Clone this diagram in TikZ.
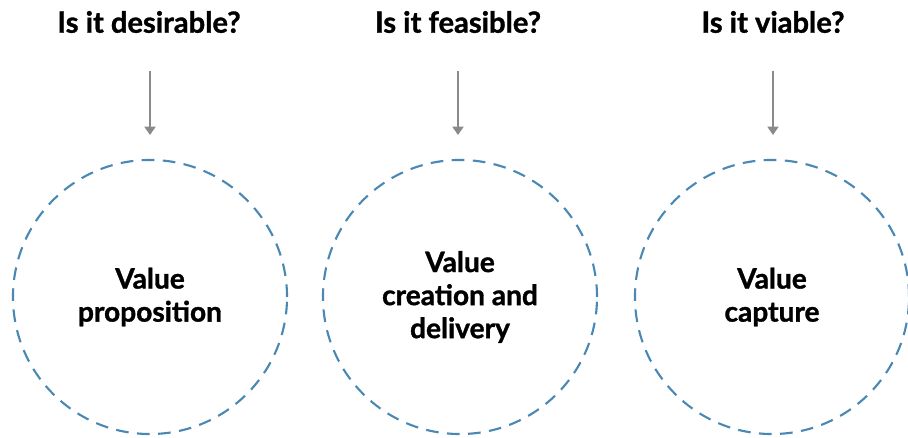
\documentclass[tikz,border=0pt]{standalone}
\usepackage{fontspec}
\setmainfont{Lato}[BoldFeatures={FakeBold=1.2}]
\usetikzlibrary{arrows.meta}

\begin{document}
\begin{tikzpicture}[x=0.025cm, y=-0.025cm,
    question/.style={font=\bfseries\fontsize{20.7}{24}\selectfont, text=black},
    stage/.style={circle, draw=dashblue, dashed, dash pattern=on 9pt off 6pt, line width=1.5pt,
        minimum size=6.85cm, align=center, font=\bfseries\fontsize{20}{23.5}\selectfont},
    pointer/.style={-{Triangle[length=6pt, width=8pt]}, draw=arrowgray, fill=arrowgray, line width=1pt}]
    \definecolor{dashblue}{HTML}{4A88B4}
    \definecolor{arrowgray}{HTML}{8A8A8A}
    \useasboundingbox (0,0) rectangle (908,438);

    \node (qdesirable) [question] at (149,22) {Is it desirable?};
    \node (qfeasible) [question] at (458,22) {Is it feasible?};
    \node (qviable) [question] at (773,22) {Is it viable?};

    \coordinate (sdesirable) at (150,71);
    \coordinate (sfeasible) at (458,71);
    \coordinate (sviable) at (773,71);
    \coordinate (edesirable) at (150,135);
    \coordinate (efeasible) at (458,135);
    \coordinate (eviable) at (773,135);

    \node (proposition) [stage] at (150,297) {Value\\proposition};
    \node (creation) [stage] at (460,297) {Value\\creation and\\delivery};
    \node (capture) [stage] at (772,297) {Value\\capture};

    \draw [pointer] (sdesirable) -- (edesirable);
    \draw [pointer] (sfeasible) -- (efeasible);
    \draw [pointer] (sviable) -- (eviable);
        
\end{tikzpicture}
\end{document}
